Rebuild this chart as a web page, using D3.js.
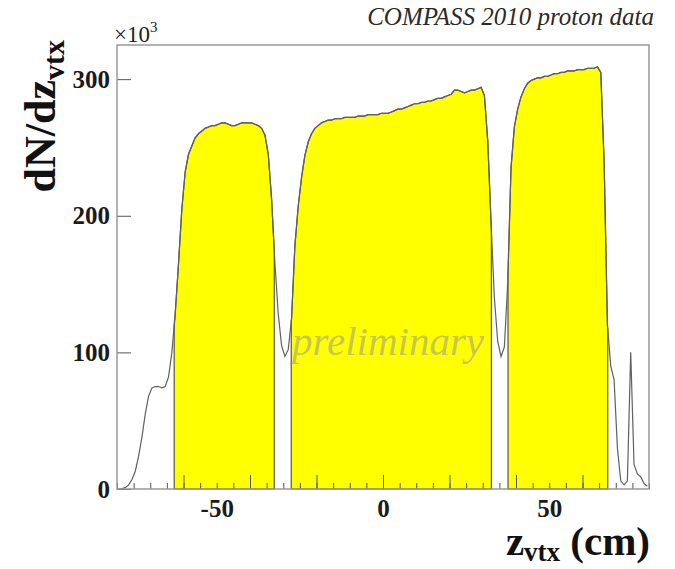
<!DOCTYPE html>
<html>
<head>
<meta charset="utf-8">
<script src="https://cdn.jsdelivr.net/npm/d3@7"></script>
<style>
  body { margin: 0; background: #fff; }
  svg { display: block; }
  .tick text { font-family: "Liberation Serif", "Times New Roman", serif; font-weight: bold; }
</style>
</head>
<body>
<svg id="chart"></svg>
<script>
const WIDTH = 675;
const HEIGHT = 569;
const FRAME_LEFT = 117; //left edge of the frame
const FRAME_RIGHT = 649;
const FRAME_TOP = 45;
const FRAME_BOTTOM = 489;

// histogram: 1 cm bins from -80 to 80 cm, contents in units of 10^3
const zLow = -80;
const binWidth = 1;
const counts = [
  0, 0.3, 1, 3, 7, 13, 24, 38, 55, 68,            // -80 .. -70
  74, 75, 75, 74, 75, 82, 100, 128, 165, 205,     // -70 .. -60
  232, 245, 251, 257, 260, 262, 264, 265, 266, 266, // -60 .. -50
  267, 268, 268, 267, 266, 266, 267, 268, 268, 268, // -50 .. -40
  268, 267, 266, 264, 259, 245, 212, 165, 128, 105, // -40 .. -30
  97, 102, 125, 178, 207, 228, 244, 254, 260, 264,  // -30 .. -20
  266, 268, 269, 270, 270, 271, 271, 271, 272, 272, // -20 .. -10
  272, 272, 273, 273, 273, 274, 274, 274, 274, 275, // -10 .. 0
  275, 275, 276, 277, 278, 278, 279, 280, 281, 282, // 0 .. 10
  282, 283, 283, 284, 284, 285, 286, 286, 287, 288, // 10 .. 20
  289, 292, 292, 291, 290, 291, 292, 292, 293, 294, // 20 .. 30
  288, 255, 195, 140, 108, 97, 104, 150, 235, 265,  // 30 .. 40
  278, 287, 293, 297, 299, 300, 301, 301, 302, 302, // 40 .. 50
  303, 304, 304, 305, 305, 306, 306, 306, 307, 307, // 50 .. 60
  307, 308, 308, 308, 309, 305, 240, 120, 90, 80,   // 60 .. 70
  30, 6, 3, 6, 100, 18, 11, 9, 4, 2                 // 70 .. 80
];

// selected target regions, filled yellow
const cutRanges = [[-62.8, -32.7], [-27.6, 32.6], [37.6, 67.6]];

const xTickLabels = [-50, 0, 50];
const xMajorTicks = [-60, -40, -20, 0, 20, 40, 60];
const yTickValues = [0, 100, 200, 300];

const SERIF = '"Liberation Serif", "Times New Roman", serif';

const centers = counts.map((c, i) => zLow + (i + 0.5) * binWidth);

const xScale = d3.scaleLinear()
  .domain([-80, 80])
  .range([FRAME_LEFT, FRAME_RIGHT]);

const yScale = d3.scaleLinear()
  .domain([0, 325])
  .range([FRAME_BOTTOM, FRAME_TOP]);

const svg = d3.select("#chart")
  .attr("width", WIDTH)
  .attr("height", HEIGHT);

// value of the drawn outline at z (straight segments between bin centres)
const lineAt = (z) => {
  let i = Math.floor((z - zLow) / binWidth - 0.5);
  i = Math.max(0, Math.min(counts.length - 2, i));
  let t = (z - centers[i]) / binWidth;
  return counts[i] + t * (counts[i + 1] - counts[i]);
};

// yellow filled regions
const area = d3.area()
  .x(d => xScale(d[0]))
  .y0(yScale(0))
  .y1(d => yScale(d[1]));

cutRanges.forEach(([a, b]) => {
  let pts = [[a, lineAt(a)]];
  centers.forEach((z, i) => { if (z > a && z < b) pts.push([z, counts[i]]); });
  pts.push([b, lineAt(b)]);
  svg.append("path")
    .attr("d", area(pts))
    .attr("fill", "#ffff00")
    .attr("stroke", "#5a5a3a")
    .attr("stroke-width", 1.2);
});

// preliminary watermark
svg.append("text")
  .attr("x", 292)
  .attr("y", 355)
  .attr("font-family", SERIF)
  .attr("font-style", "italic")
  .attr("font-size", 41)
  .attr("fill", "rgba(150,150,150,0.55)")
  .text("preliminary");

// histogram outline
const histPts = [[zLow, 0]].concat(counts.map((c, i) => [centers[i], c]));

const line = d3.line()
  .x(d => xScale(d[0]))
  .y(d => yScale(d[1]));

svg.append("path")
  .attr("d", line(histPts))
  .attr("fill", "none")
  .attr("stroke", "#606060")
  .attr("stroke-width", 1.2);

// x axis ticks (pointing up into the frame)
svg.append("g")
  .attr("transform", "translate(0," + FRAME_BOTTOM + ")")
  .call(d3.axisBottom(xScale).tickValues(d3.range(-80, 81, 5)).tickSize(-6).tickFormat(""))
  .call(g => g.select(".domain").remove())
  .call(g => g.selectAll("line").attr("stroke", "#555"));

svg.append("g")
  .attr("transform", "translate(0," + FRAME_BOTTOM + ")")
  .call(d3.axisBottom(xScale).tickValues(xMajorTicks).tickSize(-14).tickFormat(""))
  .call(g => g.select(".domain").remove())
  .call(g => g.selectAll("line").attr("stroke", "#555"));

svg.append("g")
  .attr("transform", "translate(0," + FRAME_BOTTOM + ")")
  .call(d3.axisBottom(xScale).tickValues(xTickLabels).tickSize(0).tickPadding(10).tickFormat(d => String(d)))
  .call(g => g.select(".domain").remove())
  .call(g => g.selectAll("text").attr("font-size", 25).attr("fill", "#1a1a1a"));

// y axis
svg.append("g")
  .attr("transform", "translate(" + FRAME_LEFT + ",0)")
  .call(d3.axisLeft(yScale).tickValues(yTickValues).tickSize(-14).tickPadding(7).tickFormat(d => String(d)))
  .call(g => g.select(".domain").remove())
  .call(g => g.selectAll("line").attr("stroke", "#555"))
  .call(g => g.selectAll("text").attr("font-size", 25).attr("fill", "#1a1a1a"));

// frame
svg.append("rect")
  .attr("x", FRAME_LEFT)
  .attr("y", FRAME_TOP)
  .attr("width", FRAME_RIGHT - FRAME_LEFT)
  .attr("height", FRAME_BOTTOM - FRAME_TOP)
  .attr("fill", "none")
  .attr("stroke", "#999")
  .attr("stroke-width", 1.5);

// exponent label
const expo = svg.append("text")
  .attr("x", 114)
  .attr("y", 42)
  .attr("font-family", SERIF)
  .attr("font-size", 23)
  .attr("fill", "#222");
expo.append("tspan").text("×10");
expo.append("tspan").attr("font-size", 15).attr("dy", -10).text("3");

// title top right
svg.append("text")
  .attr("x", 654)
  .attr("y", 25)
  .attr("text-anchor", "end")
  .attr("font-family", SERIF)
  .attr("font-style", "italic")
  .attr("font-size", 25)
  .attr("fill", "#2a2a2a")
  .text("COMPASS 2010 proton data");

// y title
const yTitle = svg.append("text")
  .attr("transform", "translate(55,40) rotate(-90)")
  .attr("text-anchor", "end")
  .attr("font-family", SERIF)
  .attr("font-weight", "bold")
  .attr("font-size", 44)
  .attr("fill", "#111");
yTitle.append("tspan").text("dN/dz");
yTitle.append("tspan").attr("font-size", 30).attr("dy", 9).text("vtx");

// x title
const xTitle = svg.append("text")
  .attr("x", 650)
  .attr("y", 555)
  .attr("text-anchor", "end")
  .attr("font-family", SERIF)
  .attr("font-weight", "bold")
  .attr("font-size", 41)
  .attr("fill", "#111");
xTitle.append("tspan").text("z");
xTitle.append("tspan").attr("font-size", 27).attr("dy", 6).text("vtx");
xTitle.append("tspan").attr("dy", -6).text(" (cm)");
</script>
</body>
</html>
